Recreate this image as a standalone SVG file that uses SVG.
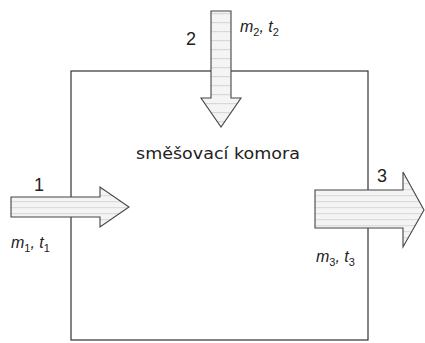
<svg xmlns="http://www.w3.org/2000/svg" width="425" height="343" viewBox="0 0 425 343">
<style>
.box{fill:none;stroke:#333;stroke-width:1.2}
.arr{stroke:#444;stroke-width:1.1;stroke-linejoin:miter}
.lbl{font-family:"Liberation Sans",Arial,sans-serif;font-size:18px;fill:#222}
.var{font-family:"Liberation Sans",Arial,sans-serif;font-size:16px;font-style:italic;fill:#222}
.sub{font-size:11px;font-style:normal}
.title{font-family:"DejaVu Sans","Liberation Sans",sans-serif;font-size:15px;fill:#222}
</style>
<defs>
<pattern id="hstripe" width="6" height="6" patternUnits="userSpaceOnUse">
<rect width="6" height="6" fill="#f4f4f4"/>
<rect y="3" width="6" height="1.2" fill="#dcdcdc"/>
</pattern>
<pattern id="hstripe2" width="6" height="9" patternUnits="userSpaceOnUse">
<rect width="6" height="9" fill="#f4f4f4"/>
<rect y="4" width="6" height="1.2" fill="#d8d8d8"/>
</pattern>
</defs>
<g id="chamber">
<rect class="box" x="71" y="71" width="297" height="269"/>
<text class="title" x="136" y="159" textLength="164" lengthAdjust="spacingAndGlyphs">směšovací komora</text>
</g>
<g id="connectors">
<g id="arrow1">
<polygon class="arr" fill="url(#hstripe)" points="11,197 100,197 100,187 129,207 100,227 100,217 11,217"/>
<text class="lbl" x="34" y="191">1</text>
<text class="var" x="11" y="248">m<tspan class="sub" dy="4">1</tspan><tspan dy="-4">, t</tspan><tspan class="sub" dy="4">1</tspan></text>
</g>
<g id="arrow2">
<polygon class="arr" fill="url(#hstripe2)" points="211,11 231,11 231,98 241,98 221,127 201,98 211,98"/>
<text class="lbl" x="186" y="45">2</text>
<text class="var" x="240" y="32">m<tspan class="sub" dy="4">2</tspan><tspan dy="-4">, t</tspan><tspan class="sub" dy="4">2</tspan></text>
</g>
<g id="arrow3">
<polygon class="arr" fill="url(#hstripe)" points="315,190 403,190 403,172 424,210 403,247 403,228 315,228"/>
<text class="lbl" x="377" y="182">3</text>
<text class="var" x="316" y="262">m<tspan class="sub" dy="4">3</tspan><tspan dy="-4">, t</tspan><tspan class="sub" dy="4">3</tspan></text>
</g>
</g>
</svg>
